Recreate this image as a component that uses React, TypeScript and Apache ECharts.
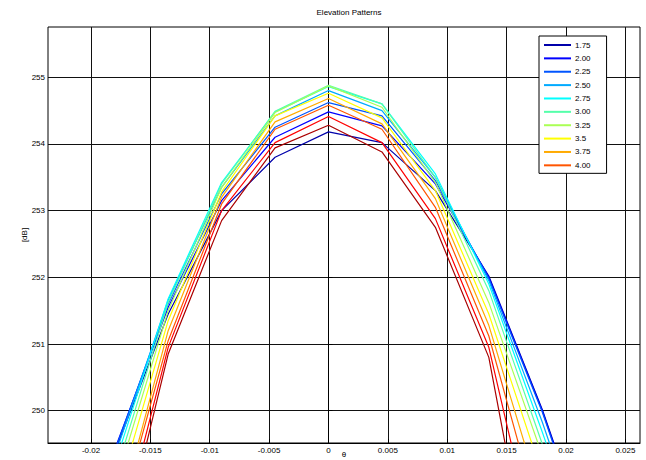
import React, { useEffect, useRef } from 'react';
import * as echarts from 'echarts';

// angle samples (rad)
const theta = [-0.0225, -0.018, -0.0135, -0.009, -0.0045, 0, 0.0045, 0.009, 0.0135, 0.018, 0.0225];

// elevation pattern values [dB] per curve
const v175 = [246.9, 249.38, 251.45, 253.0, 253.8, 254.18, 254.02, 253.3, 252.02, 250.02, 247.7];
const v200 = [247.0, 249.42, 251.55, 253.15, 254.1, 254.48, 254.27, 253.4, 252.0, 250.0, 247.68];
const v225 = [247.0, 249.4, 251.6, 253.25, 254.25, 254.62, 254.42, 253.45, 251.98, 249.98, 247.65];
const v250 = [246.9, 249.32, 251.66, 253.35, 254.42, 254.8, 254.5, 253.5, 251.95, 249.83, 247.49];
const v275 = [246.8, 249.19, 251.68, 253.42, 254.48, 254.86, 254.6, 253.55, 251.9, 249.68, 247.38];
const v300 = [246.6, 249.02, 251.62, 253.4, 254.49, 254.88, 254.6, 253.5, 251.8, 249.5, 247.2];
const v325 = [246.4, 248.85, 251.5, 253.35, 254.47, 254.87, 254.55, 253.42, 251.62, 249.33, 247.0];
const v350 = [246.2, 248.6, 251.35, 253.28, 254.42, 254.76, 254.39, 253.3, 251.45, 249.04, 246.6];
const v375 = [245.8, 248.2, 251.2, 253.2, 254.33, 254.68, 254.3, 253.18, 251.28, 248.63, 246.2];
const v400 = [245.7, 248.14, 251.05, 253.1, 254.22, 254.58, 254.22, 253.05, 251.12, 248.22, 245.6];
const v11 = [245.4, 247.8, 250.95, 253.0, 254.02, 254.41, 254.02, 252.88, 250.95, 247.51, 244.5];
const v12 = [245.2, 247.54, 250.85, 252.85, 253.94, 254.28, 253.88, 252.75, 250.8, 246.56, 243.5];

const curves = [v175, v200, v225, v250, v275, v300, v325, v350, v375, v400, v11, v12];
const curveNames = ['1.75', '2.00', '2.25', '2.50', '2.75', '3.00', '3.25', '3.5', '3.75', '4.00', 'curve11', 'curve12'];
const legendLabels = ['1.75', '2.00', '2.25', '2.50', '2.75', '3.00', '3.25', '3.5', '3.75', '4.00'];
const curveColors = ['#0000aa', '#0000ff', '#0055ff', '#00aaff', '#00ffff', '#55ffaa', '#aaff55', '#ffff00', '#ffaa00', '#ff5500', '#ff0000', '#aa0000'];

const xTicks = [-0.02, -0.015, -0.01, -0.005, 0, 0.005, 0.01, 0.015, 0.02, 0.025];
const xTickLabels = ['-0.02', '-0.015', '-0.01', '-0.005', '0', '0.005', '0.01', '0.015', '0.02', '0.025'];
const yTicks = [250, 251, 252, 253, 254, 255];
const yTickLabels = ['250', '251', '252', '253', '254', '255'];

const FONT = '"Liberation Sans", Arial, Helvetica, sans-serif';

export default function App() {
  const ref = useRef<HTMLDivElement>(null);
  useEffect(() => {
    document.body.style.margin = '0';
    const chart = echarts.init(ref.current!, null, { renderer: 'svg' });
    const textStyle = { fontFamily: FONT, fontSize: 8, color: '#000' };
    chart.setOption({
      animation: false,
      backgroundColor: '#fff',
      textStyle: { fontFamily: FONT },
      title: {
        text: 'Elevation Patterns',
        left: 344,
        top: 3,
        textAlign: 'center',
        textStyle: { ...textStyle, fontWeight: 'normal' },
      },
      legend: {
        data: legendLabels,
        orient: 'vertical',
        left: 539,
        top: 36,
        icon: 'rect',
        itemWidth: 27,
        itemHeight: 2,
        itemGap: 3.37,
        padding: [4, 16, 3, 5],
        borderColor: '#000',
        borderWidth: 1,
        backgroundColor: '#fff',
        textStyle: { ...textStyle, lineHeight: 10, padding: [0, 0, 0, -1] },
        z: 10,
      },
      grid: {
        left: 48,
        right: 6,
        top: 27,
        bottom: 17,
        containLabel: false,
        outerBoundsMode: 'none',
        show: true,
        borderColor: '#000',
        borderWidth: 1,
        backgroundColor: 'transparent',
      },
      xAxis: {
        type: 'value',
        min: -0.02362,
        max: 0.02623,
        name: 'θ',
        nameLocation: 'middle',
        nameGap: 7,
        nameMoveOverlap: false,
        nameTextStyle: textStyle,
        axisLine: { show: true, lineStyle: { color: '#000', width: 1 } },
        axisTick: { show: true, inside: true, length: 4, customValues: xTicks, lineStyle: { color: '#000' } },
        axisLabel: {
          customValues: xTicks,
          margin: 3,
          ...textStyle,
          formatter: (v: number) => {
            const i = xTicks.findIndex((t) => Math.abs(t - v) < 1e-9);
            return i >= 0 ? xTickLabels[i] : '';
          },
        },
        splitLine: { show: true, lineStyle: { color: '#111', width: 1 } },
      },
      yAxis: {
        type: 'value',
        min: 249.516,
        max: 255.753,
        name: '[dB]',
        nameLocation: 'middle',
        nameGap: 20,
        nameMoveOverlap: false,
        nameTextStyle: textStyle,
        axisLine: { show: true, lineStyle: { color: '#000', width: 1 } },
        axisTick: { show: true, inside: true, length: 4, customValues: yTicks, lineStyle: { color: '#000' } },
        axisLabel: {
          customValues: yTicks,
          margin: 3,
          ...textStyle,
          formatter: (v: number) => {
            const i = yTicks.findIndex((t) => Math.abs(t - v) < 1e-9);
            return i >= 0 ? yTickLabels[i] : '';
          },
        },
        splitLine: { show: true, lineStyle: { color: '#111', width: 1 } },
      },
      series: curves.map((vals, i) => ({
        type: 'line',
        name: curveNames[i],
        data: theta.map((t, j) => [t, vals[j]]),
        symbol: 'none',
        clip: true,
        color: curveColors[i],
        lineStyle: { width: 1.2, color: curveColors[i] },
        emphasis: { disabled: true },
      })),
    });
    return () => chart.dispose();
  }, []);
  return <div ref={ref} style={{ width: 646, height: 460 }} />;
}
